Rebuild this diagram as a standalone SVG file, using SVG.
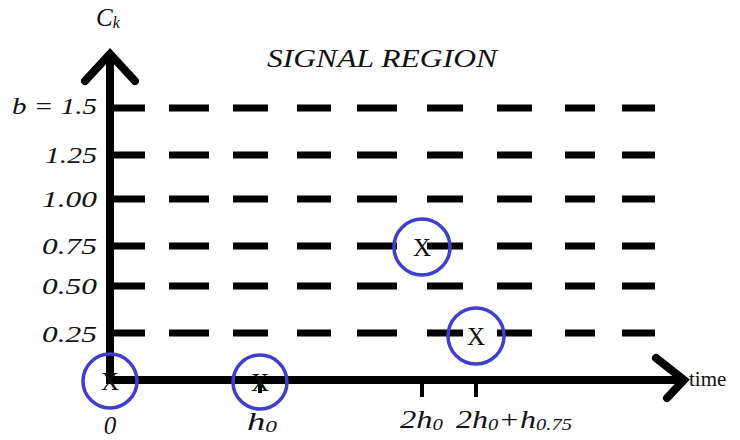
<svg xmlns="http://www.w3.org/2000/svg" width="740" height="440" viewBox="0 0 740 440">
<defs>
<style>
.axis{stroke:#000;stroke-width:8;fill:none;stroke-linecap:butt}
.head{stroke:#000;stroke-width:8;fill:none;stroke-linecap:round;stroke-linejoin:miter}
.dash{stroke:#000;stroke-width:7;fill:none}
.tick{stroke:#000;stroke-width:4}
.ring{stroke:#3f3fcc;stroke-width:3.5;fill:none}
.mark{font-family:"Liberation Serif",serif;font-size:25px;fill:#111;text-anchor:middle}
.lab{font-family:"Liberation Serif",serif;font-style:italic;font-size:23px;fill:#111;text-anchor:end}
.xlab{font-family:"Liberation Serif",serif;font-style:italic;font-size:25px;fill:#111}
.up{font-family:"Liberation Serif",serif;font-size:21px;fill:#111}
.sub{font-size:16px}
</style>
</defs>
<g id="axes">
<line class="axis" x1="110" y1="56" x2="110" y2="384"/>
<polyline class="head" points="85,81 110,54 135,81"/>
<line class="axis" x1="106" y1="380" x2="684" y2="380"/>
<polyline class="head" points="656,358 684,380 667,398"/>
<line class="tick" x1="422" y1="380" x2="422" y2="397"/>
<line class="tick" x1="476" y1="380" x2="476" y2="397"/>
<line class="tick" x1="260" y1="380" x2="260" y2="393"/>
</g>
<g id="grid">
<path class="dash" d="M110,108H145M169,108H209M233,108H268M297,108H331M357,108H397M427,108H463M497,108H532M565,108H595M622,108H655"/>
<path class="dash" d="M110,155H145M169,155H209M233,155H268M297,155H331M357,155H397M427,155H463M497,155H532M565,155H595M622,155H655"/>
<path class="dash" d="M110,199H145M169,199H209M233,199H268M297,199H331M357,199H397M427,199H463M497,199H532M565,199H595M622,199H655"/>
<path class="dash" d="M110,246H145M169,246H209M233,246H268M297,246H331M357,246H397M427,246H463M497,246H532M565,246H595M622,246H655"/>
<path class="dash" d="M110,286H145M169,286H209M233,286H268M297,286H331M357,286H397M427,286H463M497,286H532M565,286H595M622,286H655"/>
<path class="dash" d="M110,333H145M169,333H209M233,333H268M297,333H331M357,333H397M427,333H463M497,333H532M565,333H595M622,333H655"/>
</g>
<g id="labels">
<text class="xlab" x="96" y="26" font-size="27">C<tspan class="sub" dy="2">k</tspan></text>
<text x="382" y="67" font-family="Liberation Serif,serif" font-style="italic" font-size="25" fill="#111" text-anchor="middle" textLength="230" lengthAdjust="spacingAndGlyphs">SIGNAL REGION</text>
<text class="lab" x="97" y="114" textLength="85" lengthAdjust="spacingAndGlyphs">b = 1.5</text>
<text class="lab" x="97" y="163" textLength="52" lengthAdjust="spacingAndGlyphs">1.25</text>
<text class="lab" x="97" y="207" textLength="55" lengthAdjust="spacingAndGlyphs">1.00</text>
<text class="lab" x="97" y="254" textLength="55" lengthAdjust="spacingAndGlyphs">0.75</text>
<text class="lab" x="97" y="294" textLength="55" lengthAdjust="spacingAndGlyphs">0.50</text>
<text class="lab" x="97" y="342" textLength="55" lengthAdjust="spacingAndGlyphs">0.25</text>
<text class="up" x="689" y="386">time</text>
<text class="xlab" x="110" y="434" text-anchor="middle" font-style="normal" font-size="19">0</text>
<text class="xlab" x="247" y="430" textLength="30" lengthAdjust="spacingAndGlyphs">h<tspan class="sub" dy="2">0</tspan></text>
<text class="xlab" x="400" y="428" textLength="43" lengthAdjust="spacingAndGlyphs">2h<tspan class="sub" dy="2">0</tspan></text>
<text class="xlab" x="456" y="428" textLength="116" lengthAdjust="spacingAndGlyphs">2h<tspan class="sub" dy="2">0</tspan><tspan dy="-2">+h</tspan><tspan class="sub" dy="2">0.75</tspan></text>
</g>
<g id="p0">
<circle class="ring" cx="110" cy="381" r="27"/>
<text class="mark" x="110" y="390">X</text>
</g>
<g id="p1">
<circle class="ring" cx="260" cy="382" r="27"/>
<text class="mark" x="260" y="391">X</text>
</g>
<g id="p2">
<circle class="ring" cx="422" cy="247" r="28"/>
<text class="mark" x="422" y="256">X</text>
</g>
<g id="p3">
<circle class="ring" cx="476" cy="336" r="28"/>
<text class="mark" x="476" y="345">X</text>
</g>
</svg>
